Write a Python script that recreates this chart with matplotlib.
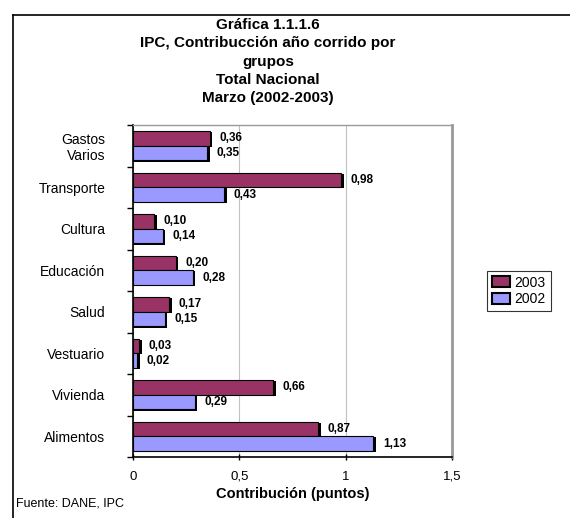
import matplotlib
matplotlib.use('Agg')
import matplotlib.pyplot as plt
from matplotlib.lines import Line2D
from matplotlib.patches import Rectangle
import numpy as np

plt.rcParams['font.family'] = ['Liberation Sans', 'DejaVu Sans']

# datos (de arriba hacia abajo)
categorias = ['Gastos\nVarios', 'Transporte', 'Cultura', 'Educación', 'Salud',
              'Vestuario', 'Vivienda', 'Alimentos']
valores_2003 = [0.36, 0.98, 0.10, 0.20, 0.17, 0.03, 0.66, 0.87]
valores_2002 = [0.35, 0.43, 0.14, 0.28, 0.15, 0.02, 0.29, 1.13]
ticks_x = [0, 0.5, 1, 1.5]
etiquetas_x = ['0', '0,5', '1', '1,5']

color_2003 = '#993366'
color_2002 = '#9999FF'

fig = plt.figure(figsize=(5.7, 5.18), dpi=100)
ax = fig.add_axes([133/570, 1-457/518, (452-133)/570, (457-125)/518])

y = np.arange(len(categorias))
h = 0.35
dx = 0.012   # sombra en x (datos)
dy = 0.03    # sombra en y (datos)

def barras(vals, offs, color):
    ax.barh(y + offs + dy, np.array(vals) + dx, height=h, color='black', zorder=2)
    ax.barh(y + offs, vals, height=h, color=color, edgecolor='black', linewidth=0.8, zorder=3)

barras(valores_2003, -h/2, color_2003)
barras(valores_2002, h/2, color_2002)

def fmt(v):
    return f'{v:.2f}'.replace('.', ',')

for i in range(len(categorias)):
    ax.annotate(fmt(valores_2003[i]), (valores_2003[i] + dx, y[i] - h/2),
                xytext=(5, 0), textcoords='offset points', va='center', ha='left',
                fontsize=8.5, fontweight='bold', zorder=5)
    ax.annotate(fmt(valores_2002[i]), (valores_2002[i] + dx, y[i] + h/2),
                xytext=(5, 0), textcoords='offset points', va='center', ha='left',
                fontsize=8.5, fontweight='bold', zorder=5)

ax.set_xlim(0, 1.5)
ax.set_ylim(len(categorias) - 0.5, -0.5)
ax.set_xticks(ticks_x)
ax.set_xticklabels(etiquetas_x, fontsize=9.5)
ax.set_yticks(y)
ax.set_yticklabels(categorias, fontsize=10, ha='right', multialignment='right')
ax.tick_params(axis='y', length=0, pad=20)
ax.set_yticks(np.arange(len(categorias) + 1) - 0.5, minor=True)
ax.tick_params(axis='y', which='minor', length=4, direction='out', width=1)
ax.tick_params(axis='x', length=4, direction='inout', width=1, pad=8)

ax.grid(axis='x', color='#c0c0c0', linewidth=0.8, zorder=0)
ax.set_axisbelow(True)
ax.spines['left'].set_color('black')
ax.spines['bottom'].set_color('black')
ax.spines['left'].set_linewidth(1.2)
ax.spines['bottom'].set_linewidth(1.2)
ax.spines['top'].set_color('#999999')
ax.spines['right'].set_color('#999999')
ax.spines['right'].set_linewidth(2)
ax.spines['top'].set_linewidth(1)

ax.set_xlabel('Contribución (puntos)', fontsize=10.5, fontweight='bold', labelpad=3)

titulo = ['Gráfica 1.1.1.6', 'IPC, Contribucción año corrido por', 'grupos',
          'Total Nacional', 'Marzo (2002-2003)']
for k, t in enumerate(titulo):
    fig.text(268/570, 1 - (25 + 18.3*k)/518, t, ha='center', va='center',
             fontsize=11, fontweight='bold')

fig.text(16/570, 1 - 503/518, 'Fuente: DANE, IPC', fontsize=9, ha='left', va='center')

# leyenda
handles = [Rectangle((0, 0), 1, 1, facecolor=color_2003, edgecolor='black', linewidth=1.5),
           Rectangle((0, 0), 1, 1, facecolor=color_2002, edgecolor='black', linewidth=1.5)]
leg = fig.legend(handles, ['2003', '2002'], loc='center', bbox_to_anchor=(519/570, 1 - 291/518),
                 fontsize=10, frameon=True, fancybox=False, edgecolor='black',
                 handlelength=1.3, handleheight=0.8, handletextpad=0.3,
                 borderpad=0.35, labelspacing=0.2, borderaxespad=0)
leg.get_frame().set_linewidth(0.8)

# marco exterior
fig.add_artist(Line2D([13/570, 1], [1 - 15/518, 1 - 15/518], color='black', linewidth=1.2))
fig.add_artist(Line2D([13/570, 13/570], [0, 1 - 15/518], color='black', linewidth=1.2))

fig.savefig('out.png', dpi=100)
